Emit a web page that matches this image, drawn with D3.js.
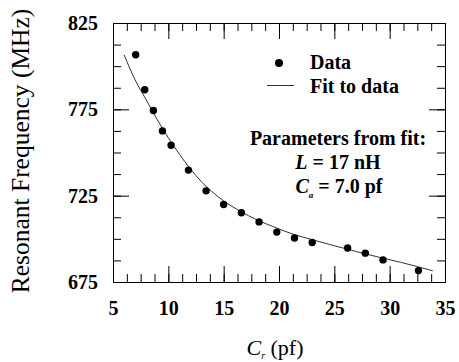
<!DOCTYPE html>
<html><head><meta charset="utf-8">
<script src="https://cdn.jsdelivr.net/npm/d3@7"></script>
<style>
html,body{margin:0;padding:0;background:#fff;}
svg{display:block;}
text{font-family:"Liberation Serif","Times New Roman",serif;fill:#000;}
</style></head>
<body>
<svg id="chart" width="459" height="362"></svg>
<script>
// Data
const capacitance = [7.05, 7.87, 8.65, 9.47, 10.25, 11.82, 13.41, 15.0, 16.6, 18.2, 19.8, 21.4, 23.0, 26.2, 27.8, 29.4, 32.6];
const frequency   = [806.6, 786.3, 774.3, 762.5, 754.2, 739.8, 727.8, 719.9, 715.1, 709.8, 703.9, 700.5, 697.9, 694.7, 691.7, 687.8, 681.6];
const fitC = [6.0, 7.0, 8.0, 9.0, 10.0, 11.0, 12.0, 13.0, 14.0, 15.0, 16.5, 18.0, 19.5, 21.0, 23.0, 25.0, 27.0, 29.0, 31.0, 33.9];
const fitF = [806.6, 792.0, 780.5, 769.0, 758.5, 749.0, 740.5, 733.0, 727.0, 722.0, 716.0, 711.0, 707.0, 703.3, 699.5, 696.0, 692.6, 689.4, 686.4, 681.5];
const xTicks = [5, 10, 15, 20, 25, 30, 35];
const yTicks = [675, 725, 775, 825];
const xMinor = d3.range(5, 35.01, 1.25);
const yMinor = d3.range(675, 825.01, 12.5);

const svg = d3.select("#chart");
const m = {left: 113, top: 23, right: 14, bottom: 80};
const W = 459 - m.left - m.right, H = 362 - m.top - m.bottom;
const g = svg.append("g").attr("transform", `translate(${m.left},${m.top})`);

const x = d3.scaleLinear().domain([5, 35]).range([0, W]);
const y = d3.scaleLinear().domain([675, 825]).range([H, 0]);

const major = 16, minor = 8;
function styleAxis(sel){
  sel.select(".domain").remove();
  sel.selectAll(".tick line").attr("stroke", "#000").attr("stroke-width", 1);
  sel.selectAll("text").style("font-size", "20px").style("font-weight", "bold");
}
// minor ticks
g.append("g").attr("transform", `translate(0,${H})`).call(d3.axisBottom(x).tickValues(xMinor).tickSize(-minor).tickFormat("")).call(styleAxis);
g.append("g").call(d3.axisTop(x).tickValues(xMinor).tickSize(-minor).tickFormat("")).call(styleAxis);
g.append("g").call(d3.axisLeft(y).tickValues(yMinor).tickSize(-minor).tickFormat("")).call(styleAxis);
g.append("g").attr("transform", `translate(${W},0)`).call(d3.axisRight(y).tickValues(yMinor).tickSize(-minor).tickFormat("")).call(styleAxis);
// major ticks
g.append("g").attr("transform", `translate(0,${H})`).call(d3.axisBottom(x).tickValues(xTicks).tickSize(-major).tickPadding(19).tickFormat(d3.format("d"))).call(styleAxis);
g.append("g").call(d3.axisTop(x).tickValues(xTicks).tickSize(-major).tickFormat("")).call(styleAxis);
g.append("g").call(d3.axisLeft(y).tickValues(yTicks).tickSize(-major).tickPadding(15).tickFormat(d3.format("d"))).call(styleAxis);
g.append("g").attr("transform", `translate(${W},0)`).call(d3.axisRight(y).tickValues(yTicks).tickSize(-major).tickFormat("")).call(styleAxis);

// frame
g.append("rect").attr("x", 0.5).attr("y", 0.5).attr("width", W).attr("height", H)
  .attr("fill", "none").attr("stroke", "#000").attr("stroke-width", 1);

// fit line
const fitData = fitC.map((c, i) => [c, fitF[i]]);
g.append("path").datum(fitData)
  .attr("fill", "none").attr("stroke", "#333").attr("stroke-width", 1)
  .attr("d", d3.line().x(d => x(d[0])).y(d => y(d[1])).curve(d3.curveMonotoneX));

// data points
g.selectAll("circle.pt").data(capacitance.map((c, i) => [c, frequency[i]])).join("circle")
  .attr("class", "pt").attr("cx", d => x(d[0])).attr("cy", d => y(d[1])).attr("r", 3.7).attr("fill", "#000");

// legend
svg.append("circle").attr("cx", 279).attr("cy", 63).attr("r", 4).attr("fill", "#000");
svg.append("text").attr("x", 310).attr("y", 69).style("font-size", "20px").style("font-weight", "bold").text("Data");
svg.append("line").attr("x1", 267).attr("x2", 294).attr("y1", 85.5).attr("y2", 85.5).attr("stroke", "#333").attr("stroke-width", 1);
svg.append("text").attr("x", 310).attr("y", 93).style("font-size", "20px").style("font-weight", "bold").text("Fit to data");

// parameters
svg.append("text").attr("x", 338).attr("y", 145).attr("text-anchor", "middle")
  .style("font-size", "20px").style("font-weight", "bold").text("Parameters from fit:");
const t1 = svg.append("text").attr("x", 338).attr("y", 169).attr("text-anchor", "middle")
  .style("font-size", "20px").style("font-weight", "bold");
t1.append("tspan").style("font-style", "italic").text("L");
t1.append("tspan").text(" = 17 nH");
const t2 = svg.append("text").attr("x", 339).attr("y", 193).attr("text-anchor", "middle")
  .style("font-size", "20px").style("font-weight", "bold");
t2.append("tspan").style("font-style", "italic").text("C");
t2.append("tspan").style("font-style", "italic").style("font-size", "9px").attr("dy", 5).text("a");
t2.append("tspan").attr("dy", -5).text(" = 7.0 pf");

// axis titles
svg.append("text").attr("transform", "translate(29,151) rotate(-90)").attr("text-anchor", "middle")
  .style("font-size", "25.5px").text("Resonant Frequency (MHz)");
const xt = svg.append("text").attr("x", 275).attr("y", 355).attr("text-anchor", "middle").style("font-size", "22px");
xt.append("tspan").style("font-style", "italic").text("C");
xt.append("tspan").style("font-style", "italic").style("font-size", "10px").attr("dy", 4).text("r");
xt.append("tspan").attr("dy", -4).text(" (pf)");
</script>
</body></html>
